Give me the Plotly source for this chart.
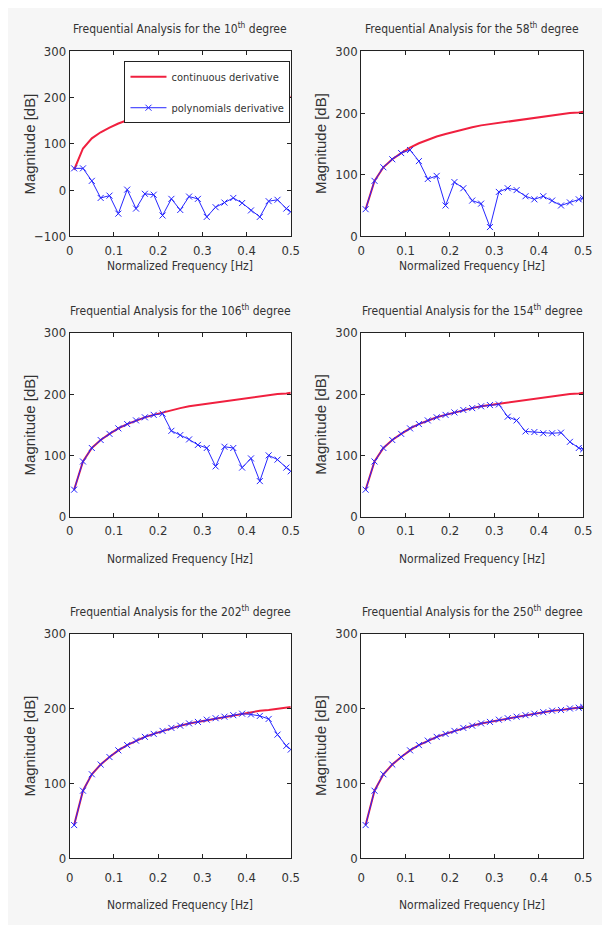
import plotly.graph_objects as go

# normalized frequency samples
freq = [0.01, 0.03, 0.05, 0.07, 0.09, 0.11, 0.13, 0.15, 0.17, 0.19, 0.21, 0.23, 0.25,
        0.27, 0.29, 0.31, 0.33, 0.35, 0.37, 0.39, 0.41, 0.43, 0.45, 0.47, 0.49, 0.50]

# continuous derivative magnitude [dB]
continuous = [44, 90, 112, 125, 135, 144, 151, 157, 162, 166, 170, 174, 177,
              180, 182, 185, 187, 189, 191, 193, 195, 197, 198, 200, 201, 202]

# polynomial derivative magnitude [dB], per degree
poly_10 = [47, 47, 20, -17, -12, -51, 1, -40, -8, -10, -55, -19, -43,
           -14, -19, -58, -37, -27, -17, -28, -44, -58, -24, -21, -40, -47]
poly_58 = [44, 90, 112, 125, 135, 140, 122, 93, 98, 50, 88, 78, 58,
           53, 15, 72, 78, 75, 65, 60, 65, 58, 50, 55, 60, 62]
poly_106 = [44, 90, 112, 125, 135, 144, 151, 157, 162, 166, 168, 140, 133,
            126, 117, 112, 82, 114, 112, 80, 95, 58, 100, 93, 80, 74]
poly_154 = [44, 90, 112, 125, 135, 144, 151, 157, 162, 166, 170, 174, 177,
            180, 182, 183, 163, 157, 139, 138, 136, 136, 137, 122, 112, 110]
poly_202 = [44, 90, 112, 125, 135, 144, 151, 157, 162, 166, 170, 174, 177,
            180, 182, 185, 187, 189, 191, 193, 192, 190, 186, 165, 150, 145]
poly_250 = [44, 90, 112, 125, 135, 144, 151, 157, 162, 166, 170, 174, 177,
            180, 182, 185, 187, 189, 191, 193, 195, 197, 198, 200, 201, 202]

degrees = ["10", "58", "106", "154", "202", "250"]
poly_series = [poly_10, poly_58, poly_106, poly_154, poly_202, poly_250]
x_ticks = [0, 0.1, 0.2, 0.3, 0.4, 0.5]
x_tick_text = ["0", "0.1", "0.2", "0.3", "0.4", "0.5"]

# the page body adds an 8px margin all round, so keep the figure inside the window
OFF = 8
W, H = 610 - 2 * OFF, 933 - 2 * OFF
RED = "#f0203f"
BLUE = "#2626ff"
NARROW = ("Noto Sans Condensed, DejaVu Sans Condensed, Liberation Sans Narrow, "
          "Arial Narrow, sans-serif")
TXT = "#333333"

# axes boxes in screen pixels: (left, right, top, bottom)
cols = [(67, 293), (365, 592)]
rows = [(45, 233), (331, 518), (637, 865)]
xtitle_shift = [-30, -42, -47]
tick_standoff = [2, 2, 7]


def px_x(v):
    return (v - OFF) / W


def px_y(v):
    return 1 - (v - OFF) / H


fig = go.Figure()
layout = {}
annotations = []

for i, (deg, poly) in enumerate(zip(degrees, poly_series)):
    r, c = divmod(i, 2)
    sfx = "" if i == 0 else str(i + 1)
    xa, ya = "x" + sfx, "y" + sfx
    left, right = cols[c]
    top, bottom = rows[r]

    fig.add_trace(go.Scatter(
        x=freq, y=continuous, xaxis=xa, yaxis=ya, mode="lines",
        line=dict(color=RED, width=2), name="continuous derivative",
        legendgroup="a", showlegend=(i == 0)))
    fig.add_trace(go.Scatter(
        x=freq, y=poly, xaxis=xa, yaxis=ya, mode="lines+markers",
        line=dict(color=BLUE, width=1),
        marker=dict(symbol="x-thin", size=6, line=dict(width=1, color=BLUE)),
        name="polynomials derivative", legendgroup="b", showlegend=(i == 0)))

    yr = [-100, 300] if i == 0 else [0, 300]
    yt = [-100, 0, 100, 200, 300] if i == 0 else [0, 100, 200, 300]
    common = dict(showline=True, linecolor="#222222", linewidth=1, mirror="allticks",
                  ticks="inside", ticklen=4, tickcolor="#222222", showgrid=False,
                  zeroline=False, tickfont=dict(family=NARROW, size=13, color=TXT))
    layout["xaxis" + sfx] = dict(domain=[px_x(left), px_x(right)], range=[0, 0.5],
                                 tickvals=x_ticks, ticktext=x_tick_text, anchor=ya,
                                 ticklabelstandoff=tick_standoff[r], **common)
    layout["yaxis" + sfx] = dict(domain=[px_y(bottom), px_y(top)], range=yr,
                                 tickvals=yt, anchor=xa, **common)

    annotations.append(dict(
        text=f"Frequential Analysis for the {deg}<sup>th</sup> degree",
        xref=xa + " domain", yref=ya + " domain", x=0.5, y=1, yshift=13,
        xanchor="center", yanchor="bottom", showarrow=False,
        font=dict(family=NARROW, size=12, color=TXT)))
    annotations.append(dict(
        text="Normalized Frequency [Hz]", xref=xa + " domain", yref=ya + " domain",
        x=0.5, y=0, yshift=xtitle_shift[r], xanchor="center", yanchor="middle",
        showarrow=False, font=dict(family=NARROW, size=12, color=TXT)))
    annotations.append(dict(
        text="Magnitude [dB]", xref=xa + " domain", yref=ya + " domain",
        x=0, y=0.5, xshift=-40, xanchor="center", yanchor="middle", textangle=-90,
        showarrow=False, font=dict(family="Liberation Sans, Arial, sans-serif",
                                   size=15, color=TXT)))

fig.update_layout(
    width=W, height=H, margin=dict(l=0, r=0, t=0, b=0),
    paper_bgcolor="#f6f6f6", plot_bgcolor="white",
    annotations=annotations,
    legend=dict(x=px_x(123), y=px_y(55), xanchor="left", yanchor="top",
                bgcolor="white", bordercolor="#222222", borderwidth=1,
                font=dict(family=NARROW, size=11, color=TXT),
                tracegroupgap=12, itemwidth=36),
    **layout)

fig.write_html("out.html")
